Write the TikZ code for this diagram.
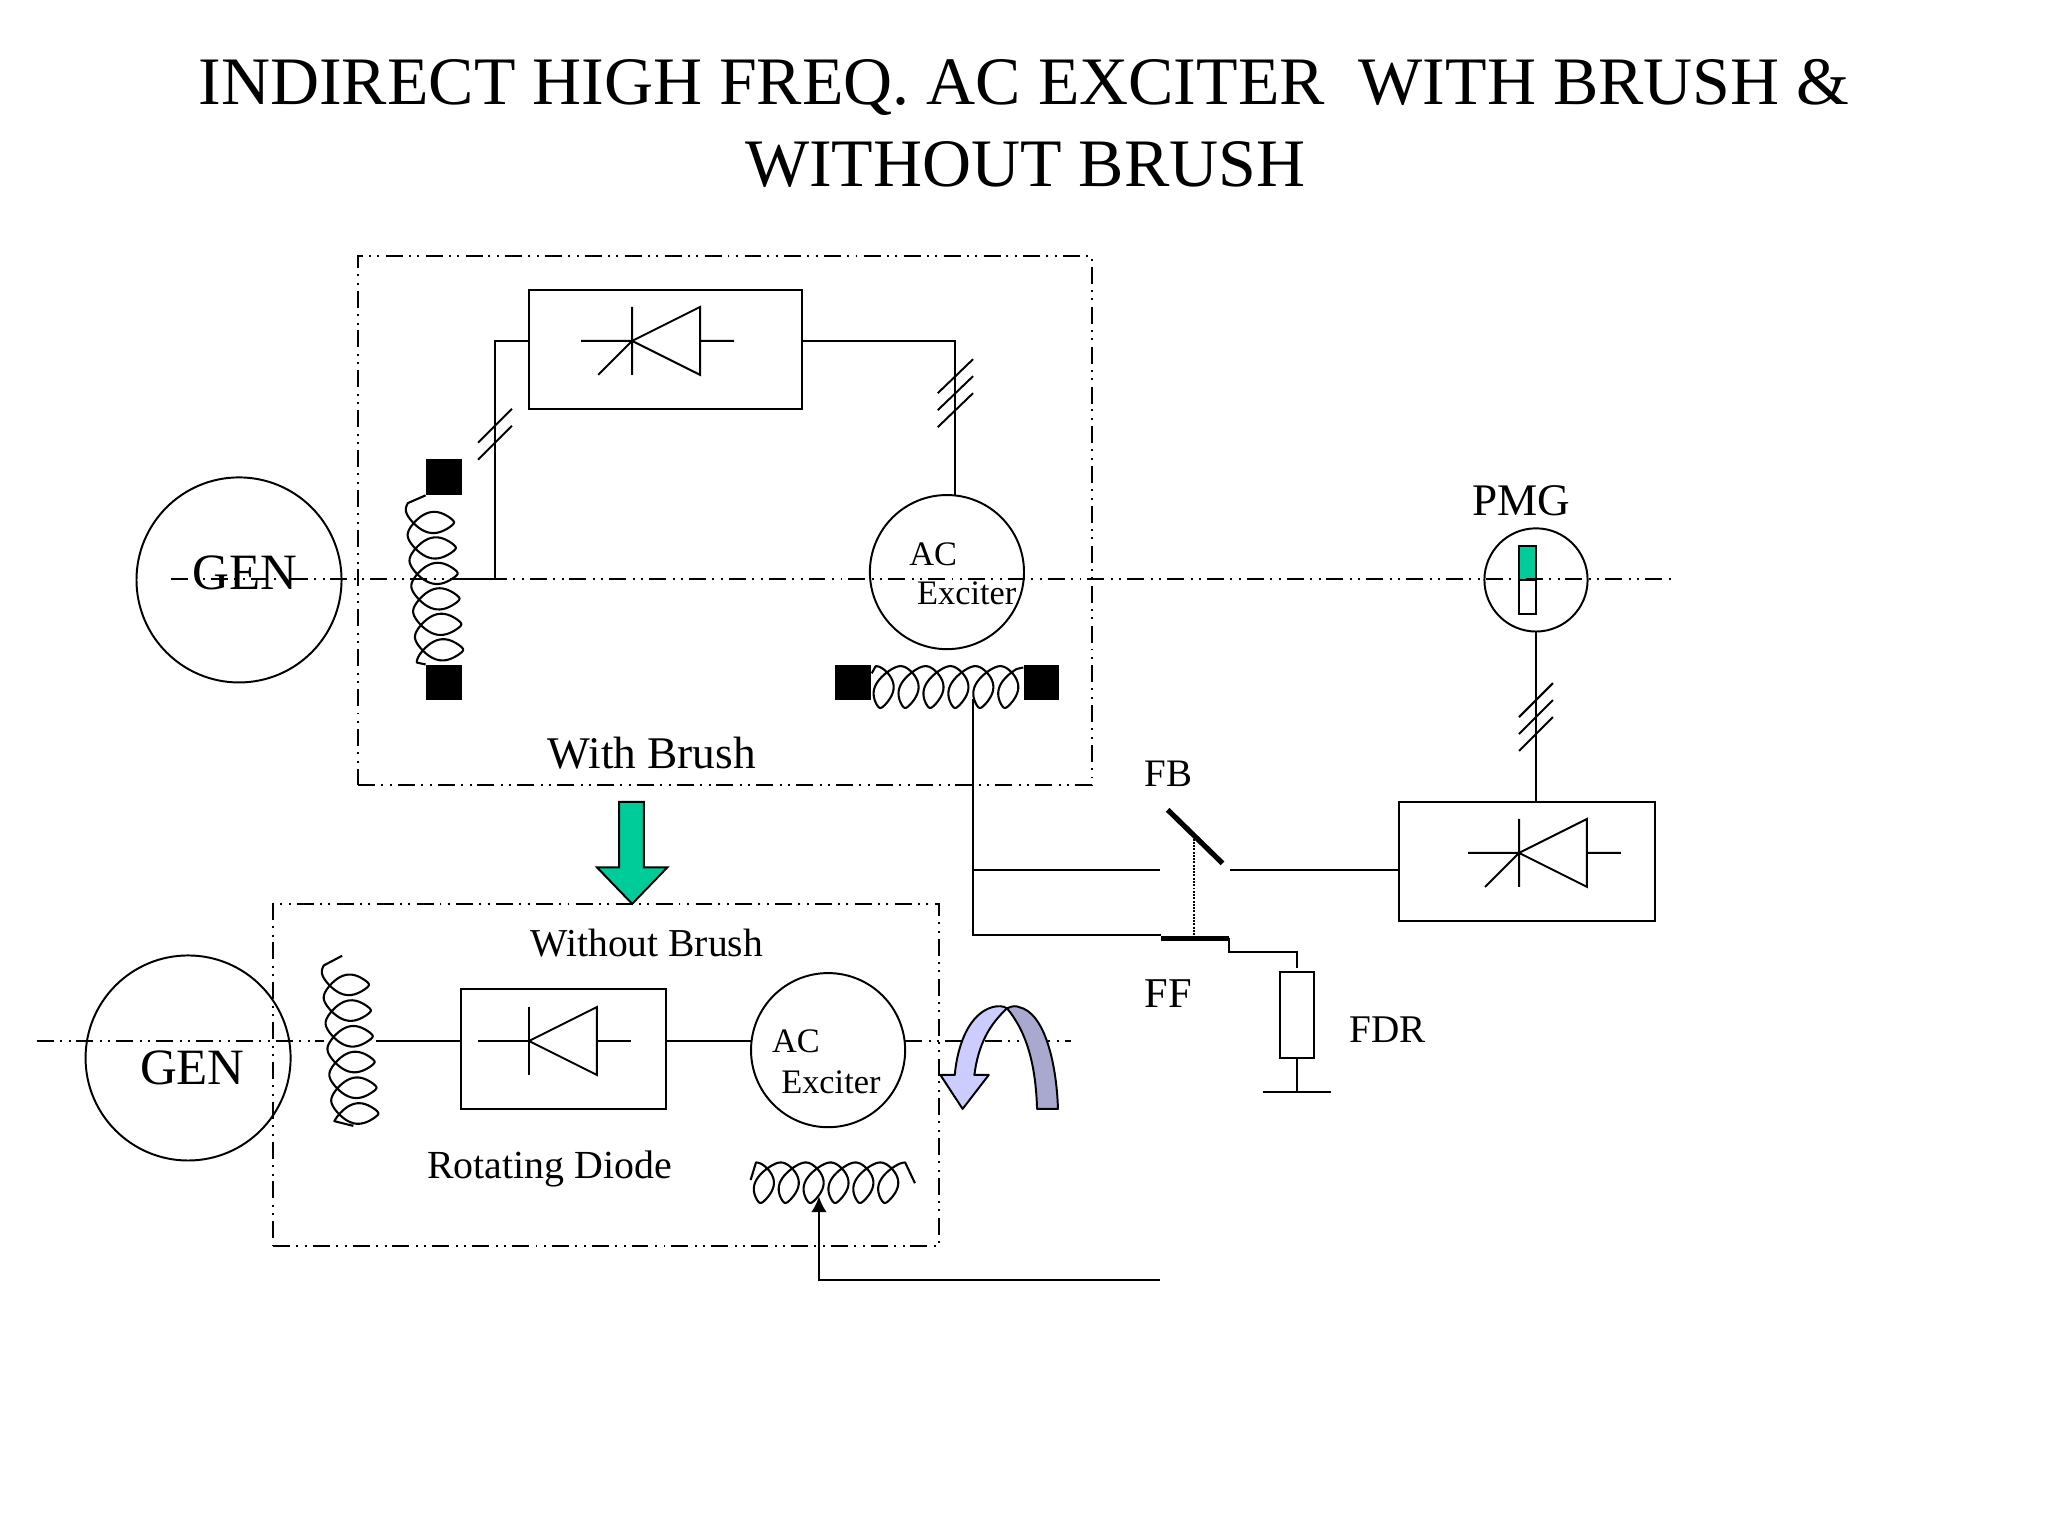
\documentclass[tikz,border=0pt]{standalone}
\usepackage{fontspec}
\setmainfont{Liberation Serif}
\usetikzlibrary{positioning,arrows.meta}
\tikzstyle{wire}=[line width=1.5pt, line join=miter]
\tikzstyle{axisline}=[line width=1.5pt, dash pattern=on 13pt off 5pt on 1.5pt off 5pt on 1.5pt off 4.5pt]
\tikzstyle{framebox}=[draw, axisline, inner sep=0pt, outer sep=0pt]
\tikzstyle{rectbox}=[rectangle, draw, wire, inner sep=0pt, outer sep=0pt]
\tikzstyle{machine}=[circle, draw, wire, inner sep=0pt, outer sep=0pt]
\tikzstyle{brushnode}=[rectangle, fill=black, minimum width=27.5pt, minimum height=27.5pt, inner sep=0pt, outer sep=0pt]
\tikzstyle{coilline}=[line width=1.6pt, line join=round]
\tikzstyle{blade}=[line width=4pt]
\tikzstyle{bendarrow}=[draw, line width=1.5pt, line join=round]
\tikzstyle{label}=[anchor=base west, inner sep=0pt]
\newcommand{\diodesym}[1]{\draw[wire, shift={(#1)}] (-39,0) -- (0,0) (0,-26) -- (0,26) (0,0) -- (52,-26) -- (52,26) -- cycle (52,0) -- (78,0);}
\newcommand{\gatesym}[1]{\draw[wire, shift={(#1)}] (0,0) -- (-26,26);}

\begin{document}
\begin{tikzpicture}[x=1pt,y=-1pt]
\useasboundingbox (0,0) rectangle (1568,1176);
%Title
\node (title1) at (784,80) [anchor=base, inner sep=0pt, font=\fontsize{52}{63}\selectfont] {INDIRECT HIGH FREQ. AC EXCITER\ \ WITH BRUSH \&};
\node (title2) at (785,143) [anchor=base, inner sep=0pt, font=\fontsize{52}{63}\selectfont] {WITHOUT BRUSH};
%Nodes
\node[framebox, minimum width=562pt, minimum height=405pt] (frametop) at (555,398.5) {};
\node[framebox, minimum width=510pt, minimum height=262pt] (framebot) at (464,823) {};
\node[machine, minimum size=157pt] (gentop) at (183,444) {};
\node[machine, minimum size=157pt] (genbot) at (144,810) {};
\node[machine, minimum size=118pt] (acxtop) at (725,438) {};
\node[machine, minimum size=118pt] (acxbot) at (634,804) {};
\node[machine, minimum size=79pt] (pmg) at (1176,444) {};
\node[rectbox, minimum width=209pt, minimum height=91pt] (thytop) at (509.5,267.5) {};
\node[rectbox, minimum width=157pt, minimum height=92pt] (diodebot) at (431.5,803) {};
\node[rectbox, minimum width=196pt, minimum height=91pt] (thyfb) at (1169,659.5) {};
\node[rectbox, minimum width=26pt, minimum height=66pt] (fdr) at (993,777) {};
\node[rectbox, fill=white, minimum width=13pt, minimum height=26pt] (pmgn) at (1169.5,457) {};
\node[rectbox, minimum width=13pt, minimum height=26pt, fill={rgb,255:red,0;green,204;blue,153}] (pmgs) at (1169.5,431) {};
\node[brushnode] (sqa) at (339.6,365.5) {};
\node[brushnode] (sqb) [below=129.5pt of sqa] {};
\node[brushnode] (sqc) at (653.4,522.5) {};
\node[brushnode] (sqd) [right=116.5pt of sqc] {};
\coordinate (tapa) at (379,443);
\coordinate (tipa) at (352,443);
\coordinate (tipb) at (288,797);
\coordinate (thyl) at (405,261);
\coordinate (thyr) at (614,261);
\coordinate (acin) at (731,379.5);
\coordinate (axisa) at (131,443);
\coordinate (axisb) at (1281,443);
\coordinate (axisc) at (28,797);
\coordinate (axisd) at (248,797);
\coordinate (axise) at (693,797);
\coordinate (axisf) at (820,797);
\coordinate (coilctap) at (745,535);
\coordinate (fbleft) at (888,666);
\coordinate (fbright) at (942,666);
\coordinate (ffline) at (889,716);
\coordinate (ffleft) at (889,718.5);
\coordinate (ffright) at (941,718.5);
\coordinate (fdrbend) at (993,729);
\coordinate (fdrtop) at (993,741);
\coordinate (gnd) at (993,836);
\coordinate (gndl) at (967,836);
\coordinate (gndr) at (1019,836);
\coordinate (bladea) at (894,620);
\coordinate (bladeb) at (936,661);
\coordinate (bladem) at (914,642);
\coordinate (coile) at (667.4,515.5);
\coordinate (coilf) at (783.5,511);
\coordinate (coila) at (262,731.7);
\coordinate (coilb) at (270.5,862);
\coordinate (coilc) at (574.7,903.4);
\coordinate (coild) at (700.5,905.9);
\coordinate (coilarrow) at (627,916);
\coordinate (feedend) at (888,980);
%Text
\node[label, font=\fontsize{39}{39}\selectfont] (gentoplabel) at (147,451) {GEN};
\node[label, font=\fontsize{39}{39}\selectfont] (genbotlabel) at (107,830) {GEN};
\node[label, font=\fontsize{26.3}{26.3}\selectfont] (acta) at (696,433) {AC};
\node[label, font=\fontsize{26.3}{26.3}\selectfont] (actb) at (702,463) {Exciter};
\node[label, font=\fontsize{26.3}{26.3}\selectfont] (acba) at (591,806) {AC};
\node[label, font=\fontsize{26.3}{26.3}\selectfont] (acbb) at (598,837) {Exciter};
\node[label, font=\fontsize{34.7}{34.7}\selectfont] (withbrush) at (419,588) {With Brush};
\node[label, font=\fontsize{30.3}{30.3}\selectfont] (nobrush) at (406,732) {Without Brush};
\node[label, font=\fontsize{30.5}{30.5}\selectfont] (rotdiode) at (327,902) {Rotating Diode};
\node[label, font=\fontsize{34.6}{34.6}\selectfont] (pmglabel) at (1127,395) {PMG};
\node[label, font=\fontsize{29.8}{29.8}\selectfont] (fblabel) at (876,602) {FB};
\node[label, font=\fontsize{32.5}{32.5}\selectfont] (fflabel) at (876,771) {FF};
\node[label, font=\fontsize{30}{30}\selectfont] (fdrlabel) at (1033,798) {FDR};
%Symbols
\diodesym{484,261}
\gatesym{484,261}
\diodesym{405,797}
\diodesym{1163,653}
\gatesym{1163,653}
%Lines
\draw[axisline] (axisa) -- (axisb);
\draw[axisline] (axisc) -- (axisd);
\draw[axisline] (axise) -- (axisf);
\draw[wire] (thyl) -| (tapa) -- (tipa);
\draw[wire] (thyr) -| (acin);
\draw[wire] (366,339) -- (392,313);
\draw[wire] (366,352) -- (392,326);
\draw[wire] (718,301) -- (745,275);
\draw[wire] (718,314) -- (745,288);
\draw[wire] (718,327) -- (745,301);
\draw[wire] (tipb) -- (diodebot.west |- tipb);
\draw[wire] (diodebot.east |- tipb) -- (acxbot.west |- tipb);
\draw[wire] (pmg.south) -- (pmg.south |- thyfb.north);
\draw[wire] (1163,549) -- (1189,523);
\draw[wire] (1163,562) -- (1189,536);
\draw[wire] (1163,575) -- (1189,549);
\draw[wire] (coilctap) -- (coilctap |- ffline) -- (ffline);
\draw[wire] (coilctap |- fbleft) -- (fbleft);
\draw[wire] (fbright) -- (thyfb.west |- fbright);
\draw[blade] (bladea) -- (bladeb);
\draw[blade] (ffleft) -- (ffright);
\draw[wire, densely dotted] (bladem) -- (bladem |- ffleft);
\draw[wire] (ffright) |- (fdrbend) -- (fdrtop);
\draw[wire] (fdr.south) -- (gnd);
\draw[wire] (gndl) -- (gndr);
\draw[-{Latex[length=12pt,width=12pt]}, line width=2pt] (feedend) -| (coilarrow);
%Coils
\draw[coilline] (sqa.south west) -- plot[domain=-205:1980, samples=300, variable=\t] ({329.5+\t/360*1.4+18.1*cos(\t)},{400+\t/360*19.5-11.6*sin(\t)+1.2*sin(3*\t)}) -- (sqb.north west);
\draw[coilline] (coile) -- plot[domain=-180:1950, samples=300, variable=\t] ({677+\t/360*19.08-11*sin(\t)+1*sin(3*\t)-3*cos(\t)},{526+16*cos(\t)}) -- (coilf);
\draw[coilline] (coila) -- plot[domain=-205:1960, samples=300, variable=\t] ({264.8+\t/360*1.44+17.7*cos(\t)},{754+\t/360*19.7-11.4*sin(\t)+1.2*sin(3*\t)}) -- (coilb);
\draw[coilline] (coilc) -- plot[domain=-180:1980, samples=300, variable=\t] ({585.3+\t/360*19.04-11*sin(\t)+1*sin(3*\t)-3*cos(\t)},{905.5+15.5*cos(\t)}) -- (coild);
%Arrows
\path[draw, wire, fill={rgb,255:red,0;green,204;blue,153}] (474,614) -- (493,614) -- (493,664) -- (511,664) -- (484,692) -- (457,664) -- (474,664) -- cycle;
\path[bendarrow, fill={rgb,255:red,169;green,169;blue,207}] (771,772) .. controls (775,770) and (778,770) .. (780,771) .. controls (800,775) and (809,815) .. (810,849) -- (794,849) .. controls (793,815) and (786,790) .. (771,772) -- cycle;
\path[bendarrow, fill={rgb,255:red,204;green,204;blue,255}] (771,772) .. controls (768,770) and (764,770) .. (760,771) .. controls (742,776) and (733,800) .. (731,823) -- (720,823) -- (737,849) -- (757,823) -- (746,823) .. controls (749,800) and (757,785) .. (771,772) -- cycle;
\end{tikzpicture}
\end{document}
